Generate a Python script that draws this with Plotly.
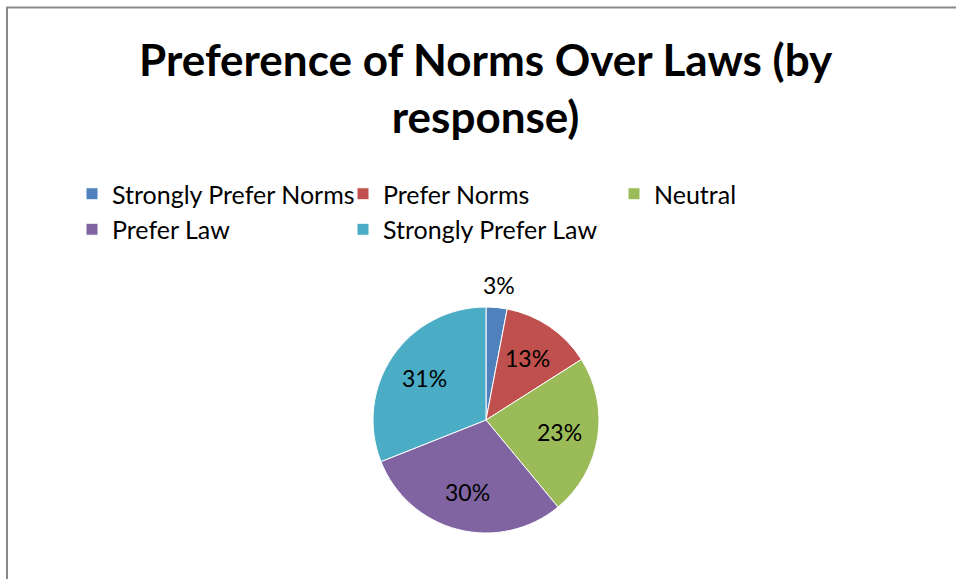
import math
import plotly.graph_objects as go

# Survey responses: share of respondents per answer (percent)
categories = ["Strongly Prefer Norms", "Prefer Norms", "Neutral", "Prefer Law", "Strongly Prefer Law"]
shares = [3, 13, 23, 30, 31]
colors = ["#4F81BD", "#C0504D", "#9BBB59", "#8064A2", "#4BACC6"]

W, H = 956, 579
FONT = "Lato, 'Open Sans', sans-serif"

# pie placement in pixels
cx, cy, r = 486, 420, 113

fig = go.Figure(
    go.Pie(
        labels=categories,
        values=shares,
        sort=False,
        direction="clockwise",
        rotation=0,
        marker=dict(colors=colors, line=dict(color="white", width=1)),
        textinfo="none",
        hoverinfo="label+percent",
        domain=dict(x=[(cx - r) / W, (cx + r) / W], y=[1 - (cy + r) / H, 1 - (cy - r) / H]),
    )
)

# percentage labels placed along each slice's bisector
total = sum(shares)
acc = 0
for name, v in zip(categories, shares):
    mid = (acc + v / 2) / total * 2 * math.pi
    acc += v
    dist = 0.66 * r if v >= 5 else 1.2 * r
    px = cx + dist * math.sin(mid)
    py = cy - dist * math.cos(mid)
    fig.add_annotation(
        x=px / W, y=1 - py / H, xref="paper", yref="paper",
        text=f"{round(v / total * 100)}%", showarrow=False,
        font=dict(family=FONT, size=23, color="black"),
        xanchor="center", yanchor="middle",
    )

# outer chart frame
fig.add_shape(
    type="rect", xref="paper", yref="paper",
    x0=7 / W, x1=1.02, y0=-0.02, y1=1 - 7.5 / H,
    line=dict(color="#898989", width=2), fillcolor="rgba(0,0,0,0)",
)

fig.update_layout(
    width=W, height=H,
    margin=dict(l=0, r=0, t=0, b=0),
    paper_bgcolor="white",
    plot_bgcolor="white",
    title=dict(
        text="<b>Preference of Norms Over Laws (by<br>response)</b>",
        x=0.508, xanchor="center", y=1 - 76 / H, yanchor="top",
        font=dict(family=FONT, size=44, color="black"),
    ),
    legend=dict(
        orientation="h",
        x=72 / W, xanchor="left",
        y=1 - 171 / H, yanchor="top",
        entrywidth=226, entrywidthmode="pixels",
        font=dict(family=FONT, size=25, color="black"),
        itemwidth=30,
        traceorder="normal",
    ),
    showlegend=True,
)

fig.write_html("out.html")
